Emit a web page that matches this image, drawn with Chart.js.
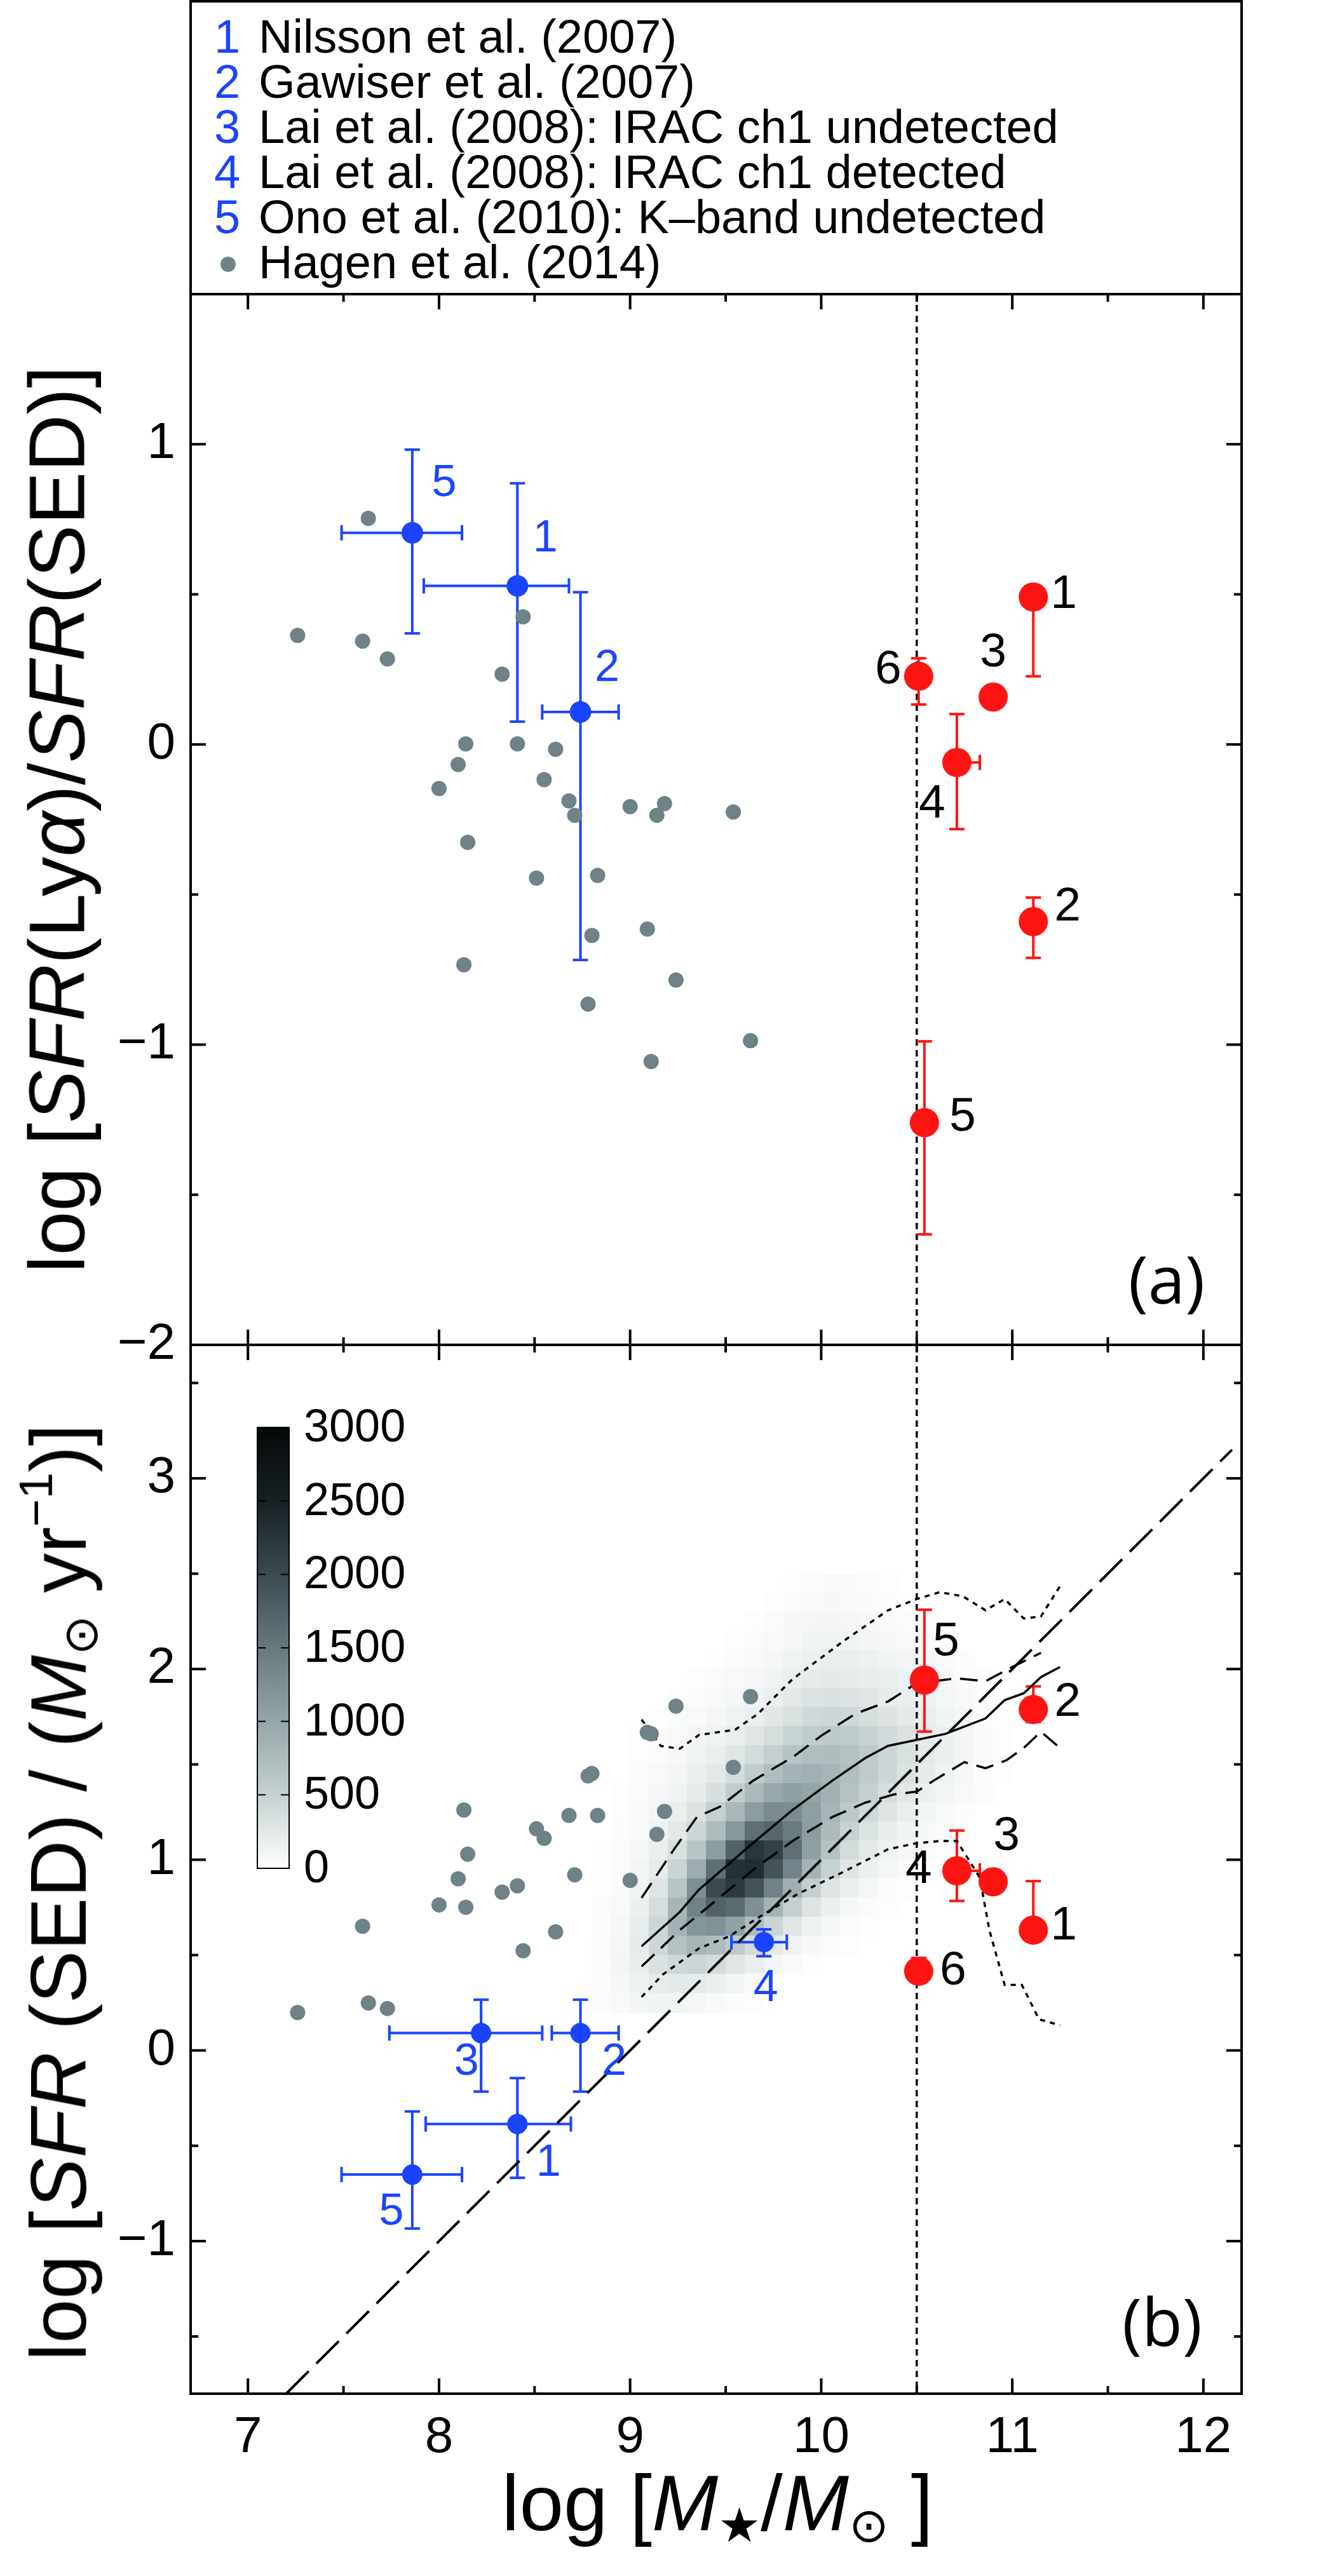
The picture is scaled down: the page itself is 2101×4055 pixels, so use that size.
<!DOCTYPE html>
<html><head><meta charset="utf-8">
<script src="https://cdn.jsdelivr.net/npm/chart.js@4.4.0/dist/chart.umd.min.js"></script>
<style>
html,body{margin:0;padding:0;background:#fff;}
#wrap{position:relative;width:2101px;height:4055px;overflow:hidden;font-family:"Liberation Sans",Arial,sans-serif;background:#fff;}
canvas{position:absolute;left:0;}
.t{position:absolute;white-space:nowrap;color:#000;line-height:1;}
.t sub{font-size:0.6em;vertical-align:-0.25em;}
.t sup{font-size:0.6em;vertical-align:0.7em;}
.lg{position:absolute;white-space:nowrap;font-size:74px;line-height:74px;color:#000;}
.lg b{font-weight:normal;color:#1a44ff;position:absolute;left:-70px;}
</style></head><body><div id="wrap">
<canvas id="ca" width="2101" height="2200" style="top:0"></canvas>
<canvas id="cb" width="2101" height="2055" style="top:2000px"></canvas>

<div style="position:absolute;left:298px;top:0;width:1658px;height:465px;border:4px solid #000;box-sizing:border-box;"></div>
<div class="lg" style="left:407px;top:21px;"><b>1</b>Nilsson et al. (2007)</div>
<div class="lg" style="left:407px;top:92px;"><b>2</b>Gawiser et al. (2007)</div>
<div class="lg" style="left:407px;top:163px;"><b>3</b>Lai et al. (2008): IRAC ch1 undetected</div>
<div class="lg" style="left:407px;top:234px;"><b>4</b>Lai et al. (2008): IRAC ch1 detected</div>
<div class="lg" style="left:407px;top:305px;"><b>5</b>Ono et al. (2010): K–band undetected</div>
<div class="lg" style="left:407px;top:376px;">Hagen et al. (2014)</div>
<div style="position:absolute;left:347px;top:404px;width:24px;height:24px;border-radius:50%;background:#6e8287;"></div>

<div class="t" style="left:89px;top:1290px;font-size:125px;transform:translate(-50%,-50%) rotate(-90deg);">log [<i>SFR</i>(Ly<i>α</i>)/<i>SFR</i>(SED)]</div>
<div class="t" style="left:92px;top:2979px;font-size:125px;transform:translate(-50%,-50%) rotate(-90deg);">log [<i>SFR</i> (SED) / (<i>M</i><sub>⊙</sub> yr<sup>−1</sup>)]</div>
<div class="t" style="left:1129px;top:3945px;font-size:125px;transform:translate(-50%,-50%);">log [<i>M</i><sub>★</sub>/<i>M</i><sub>⊙</sub> ]</div>
<div class="t" style="left:1836px;top:2011px;font-size:105px;font-family:'Open Sans',sans-serif;transform:translate(-50%,-50%);">(a)</div>
<div class="t" style="left:1829px;top:3652px;font-size:105px;font-family:'Open Sans',sans-serif;transform:translate(-50%,-50%);">(b)</div>
</div>
<script>
// ---------- axis ticks ----------
const xMajor=[7,8,9,10,11,12];
const xMinor=[7.5,8.5,9.5,10.5,11.5];
const yMajorA=[-2,-1,0,1];
const yMinorA=[-1.5,-0.5,0.5];
const yMajorB=[-1,0,1,2,3];
const yMinorB=[-1.5,-0.5,0.5,1.5,2.5,3.5];
const massCut=10.5;

// ---------- Hagen et al. (2014) ----------
const hagenMassA=[7.26,7.60,7.73,7.63,8.44,8.33,8.14,8.41,8.61,8.10,8.00,8.55,8.68,8.71,9.00,9.18,9.14,9.54,8.15,8.51,8.83,8.80,9.09,8.13,9.24,8.78,9.63,9.11];
const hagenRatio=[0.363,0.344,0.285,0.753,0.425,0.234,0.002,0.002,-0.016,-0.067,-0.147,-0.117,-0.188,-0.236,-0.207,-0.197,-0.236,-0.225,-0.326,-0.445,-0.436,-0.636,-0.615,-0.734,-0.785,-0.865,-0.987,-1.056];
const hagenMassB=[7.26,7.63,7.73,7.60,8.00,8.14,8.10,8.15,8.13,8.33,8.41,8.44,8.51,8.55,8.61,8.68,8.71,8.78,8.80,8.83,9.00,9.14,9.18,9.09,9.11,9.24,9.54,9.63];
const hagenSFR=[0.199,0.249,0.220,0.651,0.763,0.751,0.900,1.029,1.261,0.830,0.863,0.523,1.162,1.112,0.622,1.232,0.921,1.440,1.452,1.232,0.892,1.133,1.253,1.668,1.660,1.805,1.485,1.855];

// ---------- literature LAEs, panel (a) ----------
const litALabels=['1','2','5'];
const litAMass=[8.41,8.74,7.86];
const litARatio=[0.528,0.108,0.705];
const litAMassLo=[7.92,8.54,7.49];
const litAMassHi=[8.68,8.94,8.12];
const litARatioLo=[0.076,-0.718,0.370];
const litARatioHi=[0.870,0.507,0.982];

// ---------- literature LAEs, panel (b) ----------
const litBLabels=['1','2','3','4','5'];
const litBMass=[8.41,8.74,8.22,9.70,7.86];
const litBSFR=[-0.386,0.091,0.091,0.568,-0.651];
const litBMassLo=[7.93,8.59,7.74,9.53,7.49];
const litBMassHi=[8.69,8.94,8.54,9.82,8.12];
const litBSFRLo=[-0.668,-0.216,-0.216,0.494,-0.934];
const litBSFRHi=[-0.145,0.266,0.266,0.635,-0.320];

// ---------- massive LAEs (red), both panels ----------
const redLabels=['1','2','3','4','5','6'];
const redMass=[11.11,11.11,10.90,10.71,10.54,10.51];
const redMassHi=[11.17,null,null,10.83,10.60,null];
const redRatio=[0.491,-0.590,0.158,-0.060,-1.260,0.227];
const redRatioLo=[0.227,-0.711,null,-0.282,-1.632,0.133];
const redRatioHi=[null,-0.510,null,0.101,-0.989,0.287];
const redSFR=[0.631,1.788,0.884,0.942,1.942,0.415];
const redSFRLo=[null,1.722,null,0.784,1.672,null];
const redSFRHi=[0.888,1.909,null,1.153,2.311,0.485];

// ---------- main sequence relations (panel b) ----------
const diagMass=[7.2,12.15];
const diagSFR=[-1.8,3.15];
const medMass=[9.06,9.26,9.36,9.66,9.85,10.06,10.23,10.35,10.65,10.86,10.96,11.06,11.15,11.25];
const medSFR=[0.546,0.726,0.843,1.102,1.261,1.416,1.533,1.597,1.660,1.741,1.837,1.873,1.958,2.011];
const upMass=[9.06,9.23,9.35,9.47,9.64,9.86,10.00,10.18,10.35,10.50,10.71,10.86,11.00,11.15];
const upSFR=[0.80,1.055,1.225,1.278,1.412,1.544,1.650,1.766,1.830,1.926,1.951,1.936,2.011,2.085];
const loMass=[9.06,9.26,9.44,9.66,9.85,10.06,10.23,10.38,10.50,10.59,10.75,10.86,10.97,11.06,11.15,11.25];
const loSFR=[0.44,0.631,0.779,0.960,1.098,1.225,1.299,1.342,1.357,1.416,1.512,1.480,1.522,1.586,1.671,1.586];
const dotUpMass=[9.06,9.16,9.26,9.36,9.55,9.67,9.85,10.12,10.35,10.50,10.62,10.74,10.86,10.96,11.06,11.15,11.25];
const dotUpSFR=[1.735,1.597,1.582,1.654,1.682,1.766,1.947,2.149,2.308,2.367,2.403,2.382,2.308,2.367,2.265,2.276,2.435];
const dotLoMass=[9.06,9.17,9.36,9.52,9.70,9.88,10.12,10.35,10.50,10.62,10.71,10.83,10.88,10.96,11.05,11.14,11.25];
const dotLoSFR=[0.28,0.397,0.535,0.599,0.715,0.822,0.938,1.055,1.087,1.098,1.098,0.907,0.631,0.344,0.344,0.163,0.132];

// ---------- 2D histogram of galaxies (panel b) ----------
const binSize=0.1;
const hmMass=[8.8,8.9,9.0,9.1,9.2,9.3,9.4,9.5,9.6,9.7,9.8,9.9,10.0,10.1,10.2,10.3,10.4,10.5,10.6,10.7,10.8,10.9];
const hmSFR=[2.4,2.3,2.2,2.1,2.0,1.9,1.8,1.7,1.6,1.5,1.4,1.3,1.2,1.1,1.0,0.9,0.8,0.7,0.6,0.5,0.4,0.3,0.2];
const hmCounts=[
[0,0,0,0,0,0,0,0,0,0,20,40,50,50,40,20,0,0,0,0,0,0],
[0,0,0,0,0,0,0,0,0,20,40,60,70,60,50,30,20,0,0,0,0,0],
[0,0,0,0,0,0,0,0,20,40,70,90,100,90,70,60,40,30,0,0,0,0],
[0,0,0,0,0,0,0,20,40,60,90,120,130,120,100,80,60,50,30,0,0,0],
[0,0,0,0,0,0,20,40,60,90,130,160,180,170,150,120,100,80,50,30,0,0],
[0,0,0,0,0,20,40,60,90,130,180,220,240,230,200,170,130,100,70,40,20,0],
[0,0,0,0,20,40,60,90,130,180,250,310,330,310,270,220,180,140,90,60,30,0],
[0,0,0,20,40,60,90,130,190,260,340,410,440,420,370,300,240,180,120,80,40,20],
[0,0,20,30,60,90,130,190,270,370,470,550,590,570,490,400,310,230,160,100,50,20],
[0,0,20,40,80,120,180,270,390,520,650,720,730,680,570,450,340,240,160,100,50,20],
[0,0,30,60,100,160,250,380,550,720,850,880,830,720,580,440,320,220,140,80,40,20],
[0,20,40,80,130,220,350,550,780,980,1060,1010,870,680,510,360,250,160,100,60,30,0],
[0,20,50,100,180,310,520,790,1100,1300,1280,1080,830,600,410,280,180,110,60,30,0,0],
[0,30,60,130,250,450,750,1150,1600,1700,1480,1100,760,490,320,200,120,70,40,20,0,0],
[20,40,80,170,340,640,1100,1750,2250,2100,1600,1060,660,390,240,140,80,40,20,0,0,0],
[20,40,100,220,470,920,1600,2300,2350,1900,1380,850,490,280,160,90,50,20,0,0,0,0],
[20,50,120,280,640,1250,2000,2200,1900,1400,900,520,290,160,90,40,20,0,0,0,0,0],
[30,60,160,370,820,1400,1750,1650,1250,850,520,290,160,80,40,20,0,0,0,0,0,0],
[30,80,200,450,860,1180,1220,1040,740,460,270,150,80,40,20,0,0,0,0,0,0,0],
[40,90,220,430,680,820,750,580,390,240,130,70,30,20,0,0,0,0,0,0,0,0],
[40,100,200,330,440,460,390,270,180,100,50,20,0,0,0,0,0,0,0,0,0,0],
[40,80,150,210,250,230,170,110,60,30,0,0,0,0,0,0,0,0,0,0,0,0],
[30,60,100,120,120,90,60,30,20,0,0,0,0,0,0,0,0,0,0,0,0,0]
];
const cbTicks=[0,500,1000,1500,2000,2500,3000];

// ---------- styles ----------
const FONT='"Liberation Sans", Arial, sans-serif';
const BLUE='#1a44ff', RED='#ff1414', GRAY='#6e8287';
const cmapStops=[[0,[255,255,255]],[500,[198,209,209]],[1000,[149,166,169]],[1500,[103,121,127]],[2000,[58,74,80]],[2500,[23,33,37]],[3000,[5,8,8]]];
function cmap(v){
  v=Math.max(0,Math.min(3000,v));
  for(let i=1;i<cmapStops.length;i++){
    if(v<=cmapStops[i][0]){
      const a=cmapStops[i-1],b=cmapStops[i],t=(v-a[0])/(b[0]-a[0]);
      const c=a[1].map((q,k)=>Math.round(q+(b[1][k]-q)*t));
      return 'rgb('+c.join(',')+')';
    }
  }
  return 'rgb(5,8,8)';
}
const fmt=v=>(v<0?'\u2212'+Math.abs(v):String(v));
const pts=(xs,ys)=>xs.map((x,i)=>({x,y:ys[i]}));

const labelOffsets={
  litA:[[44,-74],[42,-68],[50,-77]],
  redA:[[48,-4],[54,-22],[0,-69],[-39,66],[60,-8],[-48,-9]],
  litB:[[49,62],[53,46],[-23,46],[3,74],[-33,60]],
  redB:[[48,-6],[54,-11],[21,-71],[-60,-2],[34,-59],[54,0]]
};

function seg(ctx,x1,y1,x2,y2){ctx.beginPath();ctx.moveTo(x1,y1);ctx.lineTo(x2,y2);ctx.stroke();}

function drawErrors(chart,g){
  const {ctx,scales:{x,y}}=chart; const cap=12;
  ctx.save(); ctx.strokeStyle=g.color; ctx.lineWidth=4; ctx.lineCap='butt';
  for(let i=0;i<g.x.length;i++){
    const px=x.getPixelForValue(g.x[i]), py=y.getPixelForValue(g.y[i]);
    if(g.xlo&&g.xlo[i]!=null){const p=x.getPixelForValue(g.xlo[i]);seg(ctx,px,py,p,py);seg(ctx,p,py-cap,p,py+cap);}
    if(g.xhi&&g.xhi[i]!=null){const p=x.getPixelForValue(g.xhi[i]);seg(ctx,px,py,p,py);seg(ctx,p,py-cap,p,py+cap);}
    if(g.ylo&&g.ylo[i]!=null){const p=y.getPixelForValue(g.ylo[i]);seg(ctx,px,py,px,p);seg(ctx,px-cap,p,px+cap,p);}
    if(g.yhi&&g.yhi[i]!=null){const p=y.getPixelForValue(g.yhi[i]);seg(ctx,px,py,px,p);seg(ctx,px-cap,p,px+cap,p);}
  }
  ctx.restore();
}

function makePlugin(cfg){
  return {
    id:'custom'+cfg.name,
    beforeDatasetsDraw(chart){
      const {ctx,chartArea:a,scales:{x,y}}=chart;
      if(cfg.heat){
        ctx.save();
        for(let i=0;i<hmSFR.length;i++){
          for(let j=0;j<hmMass.length;j++){
            const v=hmCounts[i][j]; if(!v) continue;
            const x0=x.getPixelForValue(hmMass[j]), x1=x.getPixelForValue(hmMass[j]+binSize);
            const y0=y.getPixelForValue(hmSFR[i]+binSize), y1=y.getPixelForValue(hmSFR[i]);
            ctx.fillStyle=cmap(v);
            ctx.fillRect(Math.floor(x0),Math.floor(y0),Math.ceil(x1-x0)+1,Math.ceil(y1-y0)+1);
          }
        }
        ctx.restore();
      }
      ctx.save(); ctx.strokeStyle='#000'; ctx.lineWidth=3.5; ctx.setLineDash([10,7]);
      const vx=x.getPixelForValue(massCut); seg(ctx,vx,a.top,vx,a.bottom); ctx.restore();
      cfg.errors.forEach(g=>drawErrors(chart,g));
    },
    afterDatasetsDraw(chart){
      const {ctx}=chart;
      ctx.save(); ctx.textAlign='center'; ctx.textBaseline='middle';
      cfg.labels.forEach(l=>{
        const meta=chart.getDatasetMeta(l.ds);
        ctx.fillStyle=l.color; ctx.font=l.size+'px '+FONT;
        l.text.forEach((t,i)=>{const el=meta.data[i]; const o=l.off[i]; ctx.fillText(t,el.x+o[0],el.y+o[1]);});
      });
      ctx.restore();
    },
    afterDraw(chart){
      const {ctx,chartArea:a,scales:{x,y}}=chart;
      ctx.save(); ctx.strokeStyle='#000'; ctx.lineWidth=4; ctx.lineCap='butt';
      const M=24,m=12;
      xMajor.forEach(v=>{const p=x.getPixelForValue(v);seg(ctx,p,a.bottom,p,a.bottom-M);seg(ctx,p,a.top,p,a.top+M);});
      xMinor.forEach(v=>{const p=x.getPixelForValue(v);seg(ctx,p,a.bottom,p,a.bottom-m);seg(ctx,p,a.top,p,a.top+m);});
      cfg.yMajor.forEach(v=>{const p=y.getPixelForValue(v);seg(ctx,a.left,p,a.left+M,p);seg(ctx,a.right,p,a.right-M,p);});
      cfg.yMinor.forEach(v=>{const p=y.getPixelForValue(v);seg(ctx,a.left,p,a.left+m,p);seg(ctx,a.right,p,a.right-m,p);});
      ctx.strokeRect(a.left,a.top,a.right-a.left,a.bottom-a.top);
      ctx.restore();
      if(cfg.colorbar){
        const L=405,R=455,T=247,B=941;
        ctx.save();
        const grad=ctx.createLinearGradient(0,B,0,T);
        cmapStops.forEach(s=>grad.addColorStop(s[0]/3000,'rgb('+s[1].join(',')+')'));
        ctx.fillStyle=grad; ctx.fillRect(L,T,R-L,B-T);
        ctx.strokeStyle='#000'; ctx.lineWidth=2; ctx.strokeRect(L,T,R-L,B-T);
        ctx.fillStyle='#000'; ctx.font='72px '+FONT; ctx.textAlign='left'; ctx.textBaseline='middle';
        cbTicks.forEach(v=>{
          const p=B-(v/3000)*(B-T);
          if(v>0&&v<3000){seg(ctx,L,p,L+13,p);seg(ctx,R,p,R-13,p);}
          ctx.fillText(String(v),478,p+2);
        });
        ctx.restore();
      }
    }
  };
}

function makeChart(id,cfg){
  return new Chart(document.getElementById(id),{
    type:'scatter',
    data:{datasets:cfg.datasets},
    options:{
      responsive:false,animation:false,devicePixelRatio:1,events:[],
      layout:{padding:cfg.padding},
      plugins:{legend:{display:false},tooltip:{enabled:false}},
      elements:{point:{borderWidth:0}},
      scales:{
        x:{type:'linear',min:6.7,max:12.2,display:cfg.showX,grid:{display:false},border:{display:false},
           afterBuildTicks:s=>{s.ticks=xMajor.map(v=>({value:v}));},
           afterFit:s=>{s.height=cfg.xHeight;},
           ticks:{font:{family:FONT,size:80},color:'#000',padding:14,maxRotation:0,autoSkip:false,callback:fmt}},
        y:{type:'linear',min:cfg.ymin,max:cfg.ymax,grid:{display:false},border:{display:false},
           afterBuildTicks:s=>{s.ticks=cfg.yMajor.map(v=>({value:v}));},
           afterFit:s=>{s.width=300;},
           ticks:{font:{family:FONT,size:80},color:'#000',padding:16,autoSkip:false,callback:fmt}}
      }
    },
    plugins:[makePlugin(cfg)]
  });
}

const ptDs=(data,color,r,order)=>({data,pointRadius:r,pointBackgroundColor:color,pointBorderWidth:0,showLine:false,order});
const lineDs=(data,w,dash,order)=>({data,showLine:true,pointRadius:0,borderColor:'#000',borderWidth:w,borderDash:dash,fill:false,order,tension:0});

makeChart('ca',{
  name:'A',ymin:-2,ymax:1.5,yMajor:yMajorA,yMinor:yMinorA,showX:false,xHeight:0,
  padding:{top:463,right:147,bottom:83,left:0},
  datasets:[
    ptDs(pts(redMass,redRatio),RED,23,1),
    ptDs(pts(litAMass,litARatio),BLUE,17,2),
    ptDs(pts(hagenMassA,hagenRatio),GRAY,12,3)
  ],
  errors:[
    {color:BLUE,x:litAMass,y:litARatio,xlo:litAMassLo,xhi:litAMassHi,ylo:litARatioLo,yhi:litARatioHi},
    {color:RED,x:redMass,y:redRatio,xhi:redMassHi,ylo:redRatioLo,yhi:redRatioHi}
  ],
  labels:[
    {ds:1,text:litALabels,off:labelOffsets.litA,color:BLUE,size:70},
    {ds:0,text:redLabels,off:labelOffsets.redA,color:'#000',size:75}
  ]
});

makeChart('cb',{
  name:'B',ymin:-1.8,ymax:3.7,yMajor:yMajorB,yMinor:yMinorB,showX:true,xHeight:287,heat:true,colorbar:true,
  padding:{top:117,right:147,bottom:0,left:0},
  datasets:[
    ptDs(pts(redMass,redSFR),RED,23,1),
    ptDs(pts(litBMass,litBSFR),BLUE,16,2),
    ptDs(pts(hagenMassB,hagenSFR),GRAY,12,3),
    lineDs(pts(medMass,medSFR),3.5,[],4),
    lineDs(pts(upMass,upSFR),3.5,[28,14],5),
    lineDs(pts(loMass,loSFR),3.5,[28,14],5),
    lineDs(pts(dotUpMass,dotUpSFR),3.5,[8,8],6),
    lineDs(pts(dotLoMass,dotLoSFR),3.5,[8,8],6),
    lineDs(pts(diagMass,diagSFR),4,[50,17],7)
  ],
  errors:[
    {color:BLUE,x:litBMass,y:litBSFR,xlo:litBMassLo,xhi:litBMassHi,ylo:litBSFRLo,yhi:litBSFRHi},
    {color:RED,x:redMass,y:redSFR,xhi:redMassHi,ylo:redSFRLo,yhi:redSFRHi}
  ],
  labels:[
    {ds:1,text:litBLabels,off:labelOffsets.litB,color:BLUE,size:70},
    {ds:0,text:redLabels,off:labelOffsets.redB,color:'#000',size:75}
  ]
});
</script>
</body></html>
